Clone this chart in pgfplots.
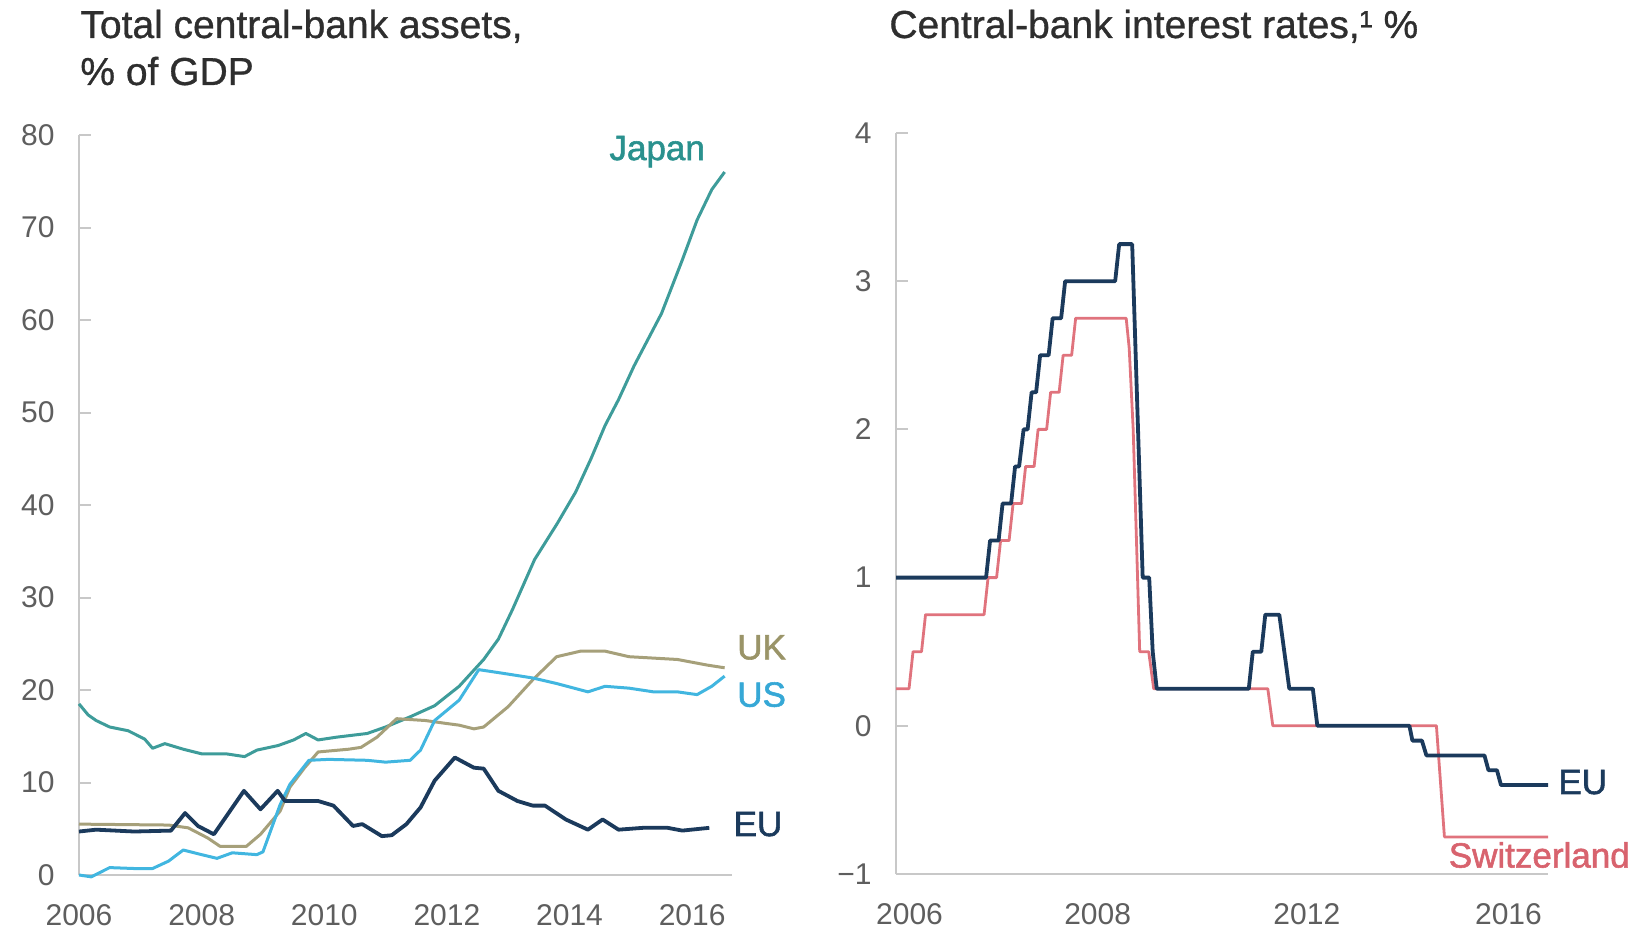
\documentclass[border=0pt]{standalone}
\usepackage{fontspec}
\setmainfont{Liberation Sans}
\newfontfamily\medfont{Liberation Sans}[FakeBold=1.6]
\newfontfamily\semfont{Liberation Sans}[FakeBold=0.8]
\usepackage{pgfplots}
\pgfplotsset{compat=1.18}

\definecolor{axisgray}{HTML}{C8C8C8}
\definecolor{tickgray}{HTML}{5E5E5E}
\definecolor{titlegray}{HTML}{2E2E2E}
\definecolor{japan}{HTML}{3E9C9A}
\definecolor{japanlbl}{HTML}{2A918E}
\definecolor{uk}{HTML}{A6A07A}
\definecolor{uklbl}{HTML}{9A9468}
\definecolor{us}{HTML}{41B6E0}
\definecolor{uslbl}{HTML}{36A8D6}
\definecolor{eu}{HTML}{1B3A5C}
\definecolor{swiss}{HTML}{E0737D}
\definecolor{swisslbl}{HTML}{D8636E}

\newcommand{\ticksize}{\fontsize{15}{15}\selectfont}
\newcommand{\lblsize}{\medfont\fontsize{17.5}{17.5}\selectfont}
\newcommand{\titlesize}{\semfont\fontsize{19.5}{23}\selectfont}

\pgfplotsset{
  panel/.style={
    scale only axis,
    anchor=south west,
    clip=false,
    axis lines=left,
    axis line style={draw=axisgray, line width=1pt, -},
    tick align=inside,
    major tick length=6pt,
    ytick style={draw=axisgray, line width=1pt},
    xtick style={draw=none},
    yticklabel style={anchor=east, inner sep=0pt, xshift=-12pt, text=tickgray, font=\ticksize},
    xticklabel style={anchor=north, inner sep=0pt, yshift=-14.5pt, text=tickgray, font=\ticksize},
  },
  series/.style={line width=#1, line join=round, no markers},
}

\begin{document}
\begin{tikzpicture}
\path[use as bounding box] (0,0) rectangle (824.5pt,466pt);

% titles
\node[anchor=base west, inner sep=0pt, text=titlegray, font=\titlesize] at (40pt,447pt) {Total central-bank assets,};
\node[anchor=base west, inner sep=0pt, text=titlegray, font=\titlesize] at (40pt,423.5pt) {\% of GDP};
\node[anchor=base west, inner sep=0pt, text=titlegray, font=\titlesize] at (444.5pt,447pt) {Central-bank interest rates,¹ \%};

% left panel
\begin{axis}[panel,
  at={(39.5pt,28.5pt)}, width=326.5pt, height=370pt,
  xmin=2006, xmax=2016.65, ymin=0, ymax=80,
  ytick={0,10,...,80},
  xtick={2006,2008,2010,2012,2014,2016},
  xticklabels={2006,2008,2010,2012,2014,2016},
  yticklabels={0,10,20,30,40,50,60,70,80},
]
\addplot[series=1.5pt, draw=japan] coordinates {
(2006.00,18.5) (2006.15,17.3) (2006.28,16.7) (2006.50,16.0) (2006.80,15.6)
(2007.07,14.7) (2007.20,13.7) (2007.40,14.2) (2007.70,13.6) (2008.00,13.1)
(2008.40,13.1) (2008.70,12.8) (2008.90,13.5) (2009.25,14.0) (2009.50,14.6)
(2009.70,15.3) (2009.90,14.6) (2010.20,14.9) (2010.70,15.3) (2011.00,16.0)
(2011.40,17.1) (2011.80,18.3) (2012.20,20.4) (2012.60,23.3) (2012.84,25.5)
(2013.07,28.7) (2013.43,34.1) (2013.80,38.0) (2014.10,41.4) (2014.35,45.0)
(2014.58,48.6) (2014.80,51.4) (2015.05,55.0) (2015.50,60.7) (2015.84,66.5)
(2016.08,70.8) (2016.32,74.1) (2016.53,76.0)
};
\addplot[series=1.5pt, draw=uk] coordinates {
(2006.00,5.5) (2007.46,5.4) (2007.78,5.1) (2008.10,4.0) (2008.30,3.1)
(2008.73,3.1) (2008.96,4.4) (2009.28,6.9) (2009.44,9.5) (2009.68,11.6)
(2009.90,13.3) (2010.40,13.6) (2010.60,13.8) (2010.86,14.9) (2011.18,16.9)
(2011.65,16.7) (2011.97,16.4) (2012.20,16.2) (2012.44,15.8) (2012.60,16.0)
(2013.00,18.2) (2013.40,21.1) (2013.79,23.6) (2014.18,24.2) (2014.58,24.2)
(2014.97,23.6) (2015.76,23.3) (2016.24,22.7) (2016.53,22.4)
};
\addplot[series=1.5pt, draw=us] coordinates {
(2006.00,0.0) (2006.20,-0.2) (2006.50,0.8) (2006.90,0.7) (2007.20,0.7)
(2007.46,1.5) (2007.70,2.7) (2008.00,2.2) (2008.25,1.8) (2008.50,2.4)
(2008.90,2.2) (2009.00,2.5) (2009.28,7.6) (2009.44,9.8) (2009.75,12.4)
(2010.07,12.5) (2010.70,12.4) (2011.00,12.2) (2011.40,12.4) (2011.57,13.5)
(2011.80,16.7) (2012.20,18.9) (2012.52,22.2) (2012.92,21.8) (2013.40,21.3)
(2013.79,20.7) (2014.30,19.8) (2014.58,20.4) (2014.97,20.2) (2015.37,19.8)
(2015.76,19.8) (2016.08,19.5) (2016.32,20.4) (2016.53,21.5)
};
\addplot[series=1.9pt, draw=eu] coordinates {
(2006.00,4.7) (2006.28,4.9) (2006.90,4.7) (2007.50,4.8) (2007.73,6.7)
(2007.94,5.3) (2008.20,4.4) (2008.69,9.1) (2008.96,7.1) (2009.24,9.1)
(2009.36,8.0) (2009.90,8.0) (2010.15,7.5) (2010.47,5.3) (2010.62,5.5)
(2010.94,4.2) (2011.10,4.3) (2011.34,5.5) (2011.57,7.3) (2011.80,10.2)
(2012.13,12.7) (2012.44,11.6) (2012.60,11.5) (2012.84,9.1) (2013.15,8.0)
(2013.40,7.5) (2013.60,7.5) (2013.94,6.0) (2014.30,4.9) (2014.54,6.0)
(2014.80,4.9) (2015.20,5.1) (2015.60,5.1) (2015.84,4.8) (2016.28,5.1)
};
\node[anchor=center, inner sep=0pt, text=japanlbl, font=\lblsize] at (axis cs:2015.43,78.2) {Japan};
\node[anchor=west, inner sep=0pt, text=uklbl, font=\lblsize] at (axis cs:2016.73,24.6) {UK};
\node[anchor=west, inner sep=0pt, text=uslbl, font=\lblsize] at (axis cs:2016.73,19.5) {US};
\node[anchor=west, inner sep=0pt, text=eu, font=\lblsize] at (axis cs:2016.67,5.5) {EU};
\end{axis}

% right panel
\begin{axis}[panel,
  at={(448pt,29pt)}, width=326pt, height=370.5pt,
  xmin=2004.12, xmax=2017.15, ymin=-1, ymax=4,
  ytick={-1,0,1,2,3,4},
  yticklabels={−1,0,1,2,3,4},
  xtick={2004.39,2008.15,2012.33,2016.36},
  xticklabels={2006,2008,2012,2016},
]
\addplot[series=1.4pt, draw=swiss] coordinates {
(2004.12,0.25) (2004.38,0.25) (2004.46,0.50) (2004.63,0.50) (2004.71,0.75)
(2005.88,0.75) (2005.96,1.00) (2006.13,1.00) (2006.21,1.25) (2006.38,1.25)
(2006.46,1.50) (2006.63,1.50) (2006.71,1.75) (2006.88,1.75) (2006.96,2.00)
(2007.13,2.00) (2007.21,2.25) (2007.38,2.25) (2007.46,2.50) (2007.63,2.50)
(2007.71,2.75) (2008.72,2.75) (2008.78,2.55) (2008.86,2.00) (2008.93,1.20)
(2008.99,0.50) (2009.17,0.50) (2009.27,0.25) (2011.55,0.25) (2011.65,0.00)
(2014.92,0.00) (2015.08,-0.75) (2017.15,-0.75)
};
\addplot[series=1.9pt, draw=eu] coordinates {
(2004.12,1.00) (2005.92,1.00) (2006.00,1.25) (2006.17,1.25) (2006.25,1.50)
(2006.42,1.50) (2006.50,1.75) (2006.58,1.75) (2006.67,2.00) (2006.75,2.00)
(2006.83,2.25) (2006.92,2.25) (2007.00,2.50) (2007.17,2.50) (2007.25,2.75)
(2007.42,2.75) (2007.50,3.00) (2008.50,3.00) (2008.58,3.25) (2008.84,3.25)
(2009.05,1.00) (2009.18,1.00) (2009.25,0.50) (2009.33,0.25) (2011.17,0.25)
(2011.25,0.50) (2011.42,0.50) (2011.50,0.75) (2011.78,0.75) (2011.98,0.25)
(2012.45,0.25) (2012.54,0.00) (2014.38,0.00) (2014.44,-0.10) (2014.63,-0.10)
(2014.72,-0.20) (2015.88,-0.20) (2015.96,-0.30) (2016.13,-0.30) (2016.21,-0.40)
(2017.15,-0.40)
};
\node[anchor=west, inner sep=0pt, text=eu, font=\lblsize] at (axis cs:2017.35,-0.38) {EU};
\node[anchor=west, inner sep=0pt, text=swisslbl, font=\lblsize] at (axis cs:2015.16,-0.872) {Switzerland};
\end{axis}
\end{tikzpicture}
\end{document}
